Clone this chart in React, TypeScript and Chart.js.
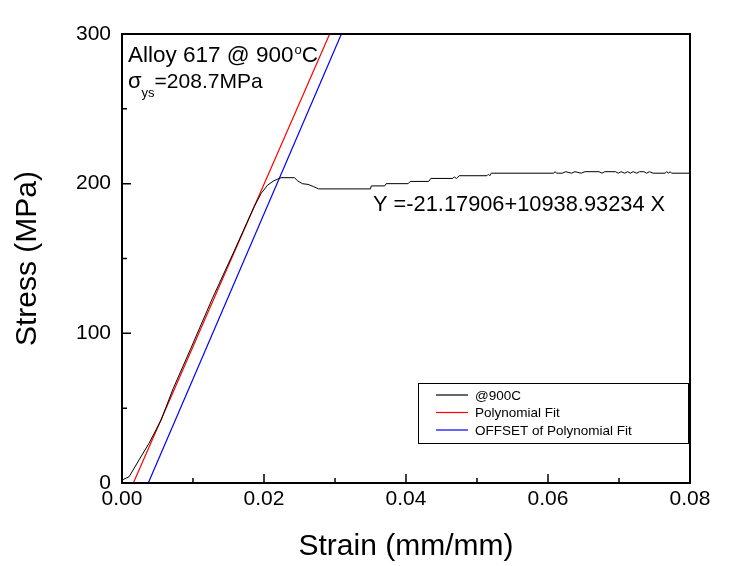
import React, { useEffect, useRef } from "react";
import { Chart, registerables } from "chart.js";

Chart.register(...registerables);

const xTickValues = [0, 0.02, 0.04, 0.06, 0.08];
const yTickValues = [0, 100, 200, 300];
const seriesNames = ["@900C", "Polynomial Fit", "OFFSET of Polynomial Fit"];
const seriesColors = ["#000000", "#ff0000", "#0000ff"];

const measuredStrain = [
  0, 0.001, 0.0024, 0.0038, 0.0055, 0.0072, 0.0097, 0.0127, 0.0158, 0.0186,
  0.0196, 0.0205, 0.0214, 0.0219, 0.0224, 0.0243, 0.0247, 0.0254, 0.0262, 0.027,
  0.0277, 0.035, 0.0351, 0.037, 0.0372, 0.0403, 0.0406, 0.0432, 0.0435, 0.0466,
  0.0468, 0.0471, 0.0475, 0.0514, 0.0516, 0.0518, 0.052, 0.0608, 0.061, 0.0612,
  0.062, 0.0625, 0.0633, 0.0638, 0.0647, 0.0652, 0.0672, 0.0676, 0.068, 0.0695,
  0.0699, 0.0703, 0.0708, 0.0712, 0.0716, 0.072, 0.0725, 0.0729, 0.0735, 0.0739,
  0.0743, 0.0748, 0.0765, 0.0767, 0.077, 0.0772, 0.0774, 0.08,
];
const measuredStress = [
  2, 4.2, 15.4, 26.5, 42, 63, 90, 123, 155, 184.5,
  193.5, 199, 202, 203, 204, 204, 202, 200, 199.5, 198,
  196.5, 196.5, 198.5, 198.5, 200, 200, 201.5, 201.5, 203.5, 203.5,
  204.5, 203.5, 205.3, 205.3, 206.3, 205.3, 207, 207, 208, 207,
  207, 208, 207, 208, 207, 208, 208, 207, 208, 208,
  207, 208, 207, 208, 207, 208, 207, 208, 208, 207,
  208, 207, 207, 208, 207, 208, 207, 207,
];

const fitStrain = [0.0016, 0.02925];
const fitStress = [0, 300];
const offsetStrain = [0.0037, 0.0309];
const offsetStress = [0, 300];

const FONT = '"Liberation Sans", Arial, sans-serif';

const toPoints = (xs: number[], ys: number[]) => xs.map((x, i) => ({ x, y: ys[i] }));

const decorPlugin = {
  id: "decor",
  afterDraw(chart: any) {
    const { ctx, chartArea: a, scales } = chart;
    const xs = scales.x;
    const ys = scales.y;
    ctx.save();
    ctx.strokeStyle = "#000";
    ctx.lineWidth = 2;
    ctx.strokeRect(a.left, a.top, a.right - a.left, a.bottom - a.top);

    // inward ticks
    ctx.lineWidth = 1.5;
    ctx.beginPath();
    for (let i = 0; i < xTickValues.length; i++) {
      const px = xs.getPixelForValue(xTickValues[i]);
      ctx.moveTo(px, a.bottom);
      ctx.lineTo(px, a.bottom - 9);
      if (i < xTickValues.length - 1) {
        const mx = xs.getPixelForValue((xTickValues[i] + xTickValues[i + 1]) / 2);
        ctx.moveTo(mx, a.bottom);
        ctx.lineTo(mx, a.bottom - 5);
      }
    }
    for (let i = 0; i < yTickValues.length; i++) {
      const py = ys.getPixelForValue(yTickValues[i]);
      ctx.moveTo(a.left, py);
      ctx.lineTo(a.left + 9, py);
      if (i < yTickValues.length - 1) {
        const my = ys.getPixelForValue((yTickValues[i] + yTickValues[i + 1]) / 2);
        ctx.moveTo(a.left, my);
        ctx.lineTo(a.left + 5, my);
      }
    }
    ctx.stroke();

    // annotations
    ctx.fillStyle = "#000";
    ctx.textBaseline = "alphabetic";
    ctx.textAlign = "left";
    ctx.font = `22.5px ${FONT}`;
    const t1 = "Alloy 617 @ 900";
    ctx.fillText(t1, 128, 62);
    const w1 = ctx.measureText(t1).width;
    ctx.font = `13px ${FONT}`;
    ctx.fillText("o", 128 + w1 + 1, 54);
    const wo = ctx.measureText("o").width;
    ctx.font = `22.5px ${FONT}`;
    ctx.fillText("C", 128 + w1 + wo + 1, 62);

    ctx.font = `22px ${FONT}`;
    ctx.fillText("\u03c3", 128, 88);
    const ws = ctx.measureText("\u03c3").width;
    ctx.font = `13px ${FONT}`;
    ctx.fillText("ys", 128 + ws, 97);
    const wys = ctx.measureText("ys").width;
    ctx.font = `21px ${FONT}`;
    ctx.fillText("=208.7MPa", 128 + ws + wys, 88);

    ctx.font = `21.8px ${FONT}`;
    ctx.fillText("Y =-21.17906+10938.93234 X", 373, 211);

    // legend
    ctx.lineWidth = 1;
    ctx.strokeRect(418.5, 383.5, 270, 60);
    ctx.font = `13.5px ${FONT}`;
    ctx.textBaseline = "middle";
    const rows = [395, 412.5, 430];
    for (let i = 0; i < seriesNames.length; i++) {
      ctx.strokeStyle = seriesColors[i];
      ctx.lineWidth = 1.2;
      ctx.beginPath();
      ctx.moveTo(436, rows[i]);
      ctx.lineTo(468, rows[i]);
      ctx.stroke();
      ctx.fillStyle = "#000";
      ctx.fillText(seriesNames[i], 475, rows[i] + 1);
    }
    ctx.restore();
  },
};

export default function App() {
  const ref = useRef<HTMLCanvasElement | null>(null);

  useEffect(() => {
    document.body.style.margin = "0";
    if (!ref.current) return;
    const chart = new Chart(ref.current, {
      type: "line",
      data: {
        datasets: [
          {
            label: seriesNames[0],
            data: toPoints(measuredStrain, measuredStress),
            borderColor: seriesColors[0],
            borderWidth: 1,
            pointRadius: 0,
            tension: 0,
          },
          {
            label: seriesNames[1],
            data: toPoints(fitStrain, fitStress),
            borderColor: seriesColors[1],
            borderWidth: 1.2,
            pointRadius: 0,
            tension: 0,
          },
          {
            label: seriesNames[2],
            data: toPoints(offsetStrain, offsetStress),
            borderColor: seriesColors[2],
            borderWidth: 1.2,
            pointRadius: 0,
            tension: 0,
          },
        ],
      },
      options: {
        animation: false,
        responsive: true,
        maintainAspectRatio: false,
        layout: { padding: { left: 0, top: 34, right: 44, bottom: 0 } },
        plugins: { legend: { display: false }, tooltip: { enabled: false } },
        scales: {
          x: {
            type: "linear",
            min: 0,
            max: 0.08,
            afterFit: (s: any) => {
              s.height = 83;
            },
            afterBuildTicks: (s: any) => {
              s.ticks = xTickValues.map((v) => ({ value: v }));
            },
            ticks: {
              color: "#000",
              font: { family: FONT, size: 21 },
              padding: 4,
              maxRotation: 0,
              autoSkip: false,
              callback: (v: any) => Number(v).toFixed(2),
            },
            grid: { display: false, drawTicks: false },
            border: { display: false },
            title: {
              display: true,
              text: "Strain (mm/mm)",
              color: "#000",
              font: { family: FONT, size: 30 },
              padding: { top: 0, bottom: 1 },
            },
          },
          y: {
            type: "linear",
            min: 0,
            max: 300,
            afterFit: (s: any) => {
              s.width = 122;
            },
            afterBuildTicks: (s: any) => {
              s.ticks = yTickValues.map((v) => ({ value: v }));
            },
            ticks: {
              color: "#000",
              font: { family: FONT, size: 21 },
              padding: 11,
              autoSkip: false,
            },
            grid: { display: false, drawTicks: false },
            border: { display: false },
            title: {
              display: true,
              text: "Stress (MPa)",
              color: "#000",
              font: { family: FONT, size: 30 },
              padding: { top: 10, bottom: 0 },
            },
          },
        },
      },
      plugins: [decorPlugin],
    });
    return () => chart.destroy();
  }, []);

  return (
    <div style={{ position: "fixed", left: 0, top: 0, width: 734, height: 566 }}>
      <canvas ref={ref} />
    </div>
  );
}
